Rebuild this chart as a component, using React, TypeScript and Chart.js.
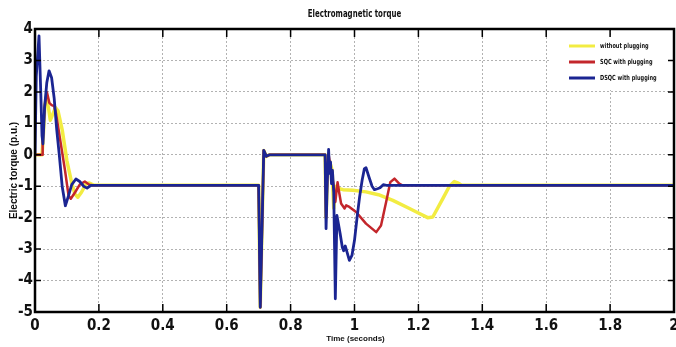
import { useEffect, useRef } from "react";
import { Chart, registerables } from "chart.js";
Chart.register(...registerables);

const NARROW = '"Liberation Sans Narrow", "Arial Narrow", "DejaVu Sans Condensed", sans-serif';
const SANS = '"Liberation Sans", Arial, sans-serif';

const titleText = "Electromagnetic torque";
const xTitle = "Time (seconds)";
const yTitle = "Electric torque (p.u.)";
const seriesLabels = ["without plugging", "SQC with plugging", "DSQC with plugging"];
const seriesColors = ["#f2ec42", "#c3262b", "#1b2592"];

const xTickValues = [0, 0.2, 0.4, 0.6, 0.8, 1, 1.2, 1.4, 1.6, 1.8, 2];
const yTickValues = [-5, -4, -3, -2, -1, 0, 1, 2, 3, 4];

// without plugging
const tYellow = [0, 0.022, 0.026, 0.031, 0.036, 0.042, 0.048, 0.056, 0.064, 0.072, 0.085, 0.1, 0.115, 0.125, 0.134, 0.145, 0.16, 0.17, 0.185,
  0.7, 0.705, 0.716, 0.724, 0.734, 0.908, 0.911, 0.916, 0.922, 0.93, 0.935, 0.942, 0.953, 0.964, 0.995, 1.036, 1.075, 1.12, 1.172, 1.2, 1.229, 1.245, 1.26, 1.276, 1.297, 1.3125, 1.325, 1.335, 2.0];
const vYellow = [0, 0, 0.6, 1.6, 1.8, 1.5, 1.1, 1.3, 1.5, 1.4, 0.8, -0.2, -0.9, -1.25, -1.35, -1.2, -0.92, -0.9, -0.97,
  -0.97, -4.85, 0.14, -0.05, 0, 0, -2.0, -0.5, -0.2, -0.5, -1.7, -1.0, -1.08, -1.11, -1.13, -1.18, -1.27, -1.45, -1.71, -1.85, -2.0, -1.98, -1.7, -1.4, -1.0, -0.85, -0.9, -0.97, -0.97];

// SQC with plugging
const tRed = [0, 0.022, 0.024, 0.03, 0.037, 0.045, 0.052, 0.06, 0.066, 0.08, 0.094, 0.105, 0.112, 0.125, 0.14, 0.156, 0.17, 0.18,
  0.7, 0.705, 0.716, 0.724, 0.734, 0.908, 0.911, 0.915, 0.919, 0.925, 0.93, 0.935, 0.94, 0.947, 0.952, 0.958, 0.969, 0.974, 0.984, 1.005, 1.036, 1.068, 1.083, 1.099, 1.112, 1.125, 1.14, 1.15, 2.0];
const vRed = [0, 0, 0.4, 1.5, 2.0, 1.65, 1.58, 1.55, 1.3, 0.4, -0.5, -1.3, -1.4, -1.2, -0.95, -0.85, -0.95, -0.97,
  -0.97, -4.85, 0.14, -0.05, 0, 0, -2.0, -0.6, 0.0, -0.4, -0.7, -1.0, -1.5, -0.87, -1.2, -1.55, -1.71, -1.61, -1.66, -1.82, -2.19, -2.46, -2.25, -1.5, -0.87, -0.76, -0.92, -0.97, -0.97];

// DSQC with plugging
const tBlue = [0, 0.004, 0.0125, 0.018, 0.022, 0.025, 0.03, 0.037, 0.044, 0.052, 0.06, 0.068, 0.076, 0.085, 0.095, 0.105, 0.115, 0.128, 0.14, 0.152, 0.163, 0.175,
  0.7, 0.705, 0.716, 0.724, 0.734, 0.908, 0.911, 0.915, 0.919, 0.922, 0.925, 0.928, 0.931, 0.935, 0.94, 0.945, 0.955, 0.962, 0.966, 0.971, 0.984, 0.992, 1.0, 1.008, 1.016, 1.024, 1.031, 1.036, 1.045, 1.055, 1.0625, 1.072, 1.08, 1.09, 1.1, 2.0];
const vBlue = [0, 2.5, 3.78, 2.0, 0.6, 0.35, 1.5, 2.3, 2.67, 2.45, 1.8, 0.8, 0.0, -1.0, -1.62, -1.3, -0.95, -0.77, -0.85, -1.0, -1.06, -0.97,
  -0.97, -4.85, 0.14, -0.05, 0, 0, -2.35, -0.8, 0.17, -0.59, -0.23, -0.92, -0.5, -1.2, -4.58, -1.93, -2.5, -2.95, -3.05, -2.9, -3.36, -3.2, -2.72, -2.0, -1.34, -0.8, -0.44, -0.41, -0.7, -1.0, -1.11, -1.08, -1.05, -0.95, -0.97, -0.97];

const toPoints = (t: number[], v: number[]) => t.map((x, i) => ({ x, y: v[i] }));

function narrowText(ctx: CanvasRenderingContext2D, text: string, x: number, y: number, sx: number) {
  ctx.save();
  ctx.translate(x, y);
  ctx.scale(sx, 1);
  ctx.fillText(text, 0, 0);
  ctx.restore();
}

const decorPlugin = {
  id: "decor",
  afterDraw(chart: any) {
    const { ctx, chartArea: a, scales } = chart;
    const xs = scales.x;
    const ys = scales.y;
    ctx.save();

    // legend box
    const lx = a.right - 123;
    const ly = a.top + 8;
    ctx.fillStyle = "#ffffff";
    ctx.fillRect(lx, ly, 120, 53);
    chart.data.datasets.forEach((ds: any, i: number) => {
      const yy = ly + 9 + i * 16;
      ctx.strokeStyle = ds.borderColor;
      ctx.lineWidth = 3;
      ctx.beginPath();
      ctx.moveTo(lx + 18, yy);
      ctx.lineTo(lx + 44, yy);
      ctx.stroke();
      ctx.fillStyle = "#111";
      ctx.font = `bold 7px ${NARROW}`;
      ctx.textAlign = "left";
      ctx.textBaseline = "middle";
      narrowText(ctx, ds.label, lx + 49, yy, 0.8);
    });

    // frame
    ctx.strokeStyle = "#000";
    ctx.lineWidth = 2.5;
    ctx.strokeRect(a.left, a.top, a.right - a.left, a.bottom - a.top);

    // inward ticks
    ctx.lineWidth = 1.5;
    ctx.beginPath();
    xTickValues.forEach((v) => {
      const px = xs.getPixelForValue(v);
      ctx.moveTo(px, a.top);
      ctx.lineTo(px, a.top + 8);
      ctx.moveTo(px, a.bottom);
      ctx.lineTo(px, a.bottom - 8);
    });
    yTickValues.forEach((v) => {
      const py = ys.getPixelForValue(v);
      ctx.moveTo(a.left, py);
      ctx.lineTo(a.left + 6, py);
      ctx.moveTo(a.right, py);
      ctx.lineTo(a.right - 6, py);
    });
    ctx.stroke();

    // texts
    ctx.fillStyle = "#111";
    ctx.textAlign = "center";
    ctx.textBaseline = "middle";
    ctx.font = `bold 10px ${NARROW}`;
    narrowText(ctx, titleText, (a.left + a.right) / 2, 14, 0.78);
    ctx.font = `bold 8px ${SANS}`;
    ctx.fillText(xTitle, (a.left + a.right) / 2 + 1, 339);
    ctx.save();
    ctx.font = `bold 10px ${SANS}`;
    ctx.translate(14, (a.top + a.bottom) / 2);
    ctx.rotate(-Math.PI / 2);
    ctx.fillText(yTitle, 0, 0);
    ctx.restore();

    ctx.restore();
  },
};

export default function App() {
  const ref = useRef<HTMLCanvasElement | null>(null);
  useEffect(() => {
    document.body.style.margin = "0";
    const canvas = ref.current;
    if (!canvas) return;
    const chart = new Chart(canvas, {
      type: "line",
      data: {
        datasets: [
          { label: seriesLabels[0], data: toPoints(tYellow, vYellow), borderColor: seriesColors[0], borderWidth: 3.5, pointRadius: 0, order: 3 },
          { label: seriesLabels[1], data: toPoints(tRed, vRed), borderColor: seriesColors[1], borderWidth: 2.5, pointRadius: 0, order: 2 },
          { label: seriesLabels[2], data: toPoints(tBlue, vBlue), borderColor: seriesColors[2], borderWidth: 2.8, pointRadius: 0, order: 1 },
        ],
      },
      options: {
        responsive: false,
        animation: false,
        devicePixelRatio: 1,
        parsing: false,
        layout: { padding: { top: 29, right: 2, left: 0, bottom: 0 } },
        plugins: { legend: { display: false }, tooltip: { enabled: false }, title: { display: false } },
        elements: { line: { borderJoinStyle: "round", borderCapStyle: "round" } },
        scales: {
          x: {
            type: "linear",
            min: 0,
            max: 2,
            afterBuildTicks: (s: any) => { s.ticks = xTickValues.map((value) => ({ value })); },
            afterFit: (s: any) => { s.height = 35; s.paddingLeft = 0; s.paddingRight = 0; },
            grid: { color: "#b2b2b2", lineWidth: 1, drawTicks: false },
            border: { display: false, dash: [2, 2] },
            ticks: { color: "#111", padding: 5, font: { family: NARROW, size: 15, weight: "bold" }, maxRotation: 0, callback: (v: any) => String(Math.round(Number(v) * 10) / 10) },
          },
          y: {
            type: "linear",
            min: -5,
            max: 4,
            afterBuildTicks: (s: any) => { s.ticks = yTickValues.map((value) => ({ value })); },
            afterFit: (s: any) => { s.width = 35; s.paddingTop = 0; s.paddingBottom = 0; },
            grid: { color: "#b2b2b2", lineWidth: 1, drawTicks: false },
            border: { display: false, dash: [2, 2] },
            ticks: { color: "#111", padding: 2, font: { family: NARROW, size: 15, weight: "bold" }, callback: (v: any) => String(v) },
          },
        },
      },
      plugins: [decorPlugin],
    } as any);
    return () => chart.destroy();
  }, []);
  return <canvas ref={ref} width={676} height={347} style={{ display: "block" }} />;
}
